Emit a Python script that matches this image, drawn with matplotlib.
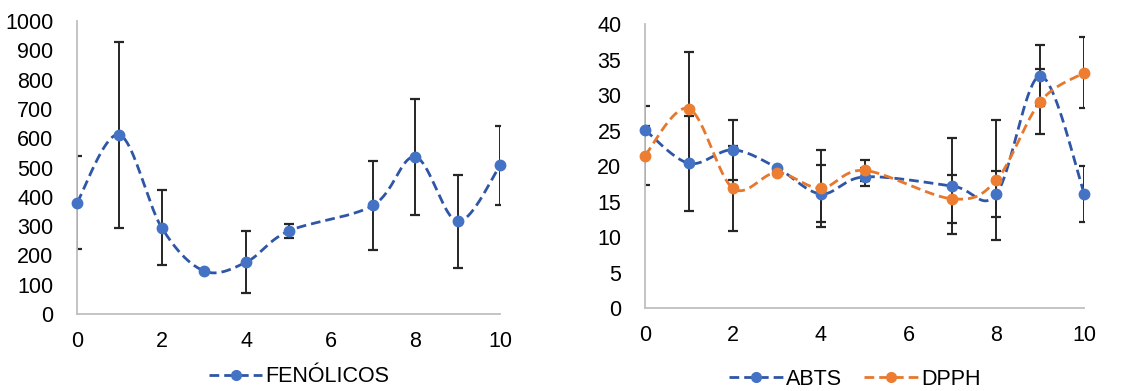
import numpy as np
import matplotlib.pyplot as plt
from matplotlib.lines import Line2D

plt.rcParams['font.family'] = ['Liberation Sans', 'DejaVu Sans']

# sampling days (no sample on day 6)
dias = [0, 1, 2, 3, 4, 5, 7, 8, 9, 10]

fenolicos = [380, 612, 295, 147, 177, 283, 371, 536, 316, 507]
fenolicos_err = [158, 317, 129, 3, 106, 25, 152, 197, 159, 136]

abts = [25.1, 20.4, 22.3, 19.8, 16.1, 18.5, 17.2, 16.1, 32.7, 16.1]
abts_err = [3.4, 6.7, 4.2, 0.15, 4.0, 1.3, 6.8, 3.25, 4.3, 3.95]

dpph = [21.5, 28.1, 16.9, 19.1, 16.9, 19.4, 15.4, 18.05, 29.1, 33.15]
dpph_err = [4.1, 7.9, 6.0, 0.15, 5.4, 1.5, 3.4, 8.5, 4.6, 5.0]

AZUL_LINEA = '#2f56a6'
AZUL_MARCA = '#4472c4'
NARANJA_LINEA = '#e8772e'
NARANJA_MARCA = '#ed7d31'
FS = 15.5


def suavizar(x, y, n=40):
    # smoothed line through the points (cubic Bezier, Catmull-Rom tangents)
    x = np.asarray(x, float)
    y = np.asarray(y, float)
    px = np.concatenate([[x[0]], x, [x[-1]]])
    py = np.concatenate([[y[0]], y, [y[-1]]])
    t = np.linspace(0, 1, n)[:, None]
    xs, ys = [], []
    for i in range(len(x) - 1):
        p0 = np.array([px[i + 1], py[i + 1]])
        p3 = np.array([px[i + 2], py[i + 2]])
        c1 = p0 + (np.array([px[i + 2], py[i + 2]]) - np.array([px[i], py[i]])) / 6
        c2 = p3 - (np.array([px[i + 3], py[i + 3]]) - np.array([px[i + 1], py[i + 1]])) / 6
        b = ((1 - t) ** 3) * p0 + 3 * ((1 - t) ** 2) * t * c1 + 3 * (1 - t) * t ** 2 * c2 + t ** 3 * p3
        xs.append(b[:, 0])
        ys.append(b[:, 1])
    return np.concatenate(xs), np.concatenate(ys)


def serie(ax, x, y, err, c_linea, c_marca):
    ax.errorbar(x, y, yerr=err, fmt='none', ecolor='#262626', elinewidth=1.4,
                capsize=3.4, capthick=1.6, zorder=2)
    sx, sy = suavizar(x, y)
    ax.plot(sx, sy, color=c_linea, lw=2.0, dashes=(3.5, 1.8), zorder=3)
    ax.plot(x, y, 'o', color=c_marca, ms=7.5, zorder=4, clip_on=False)


def estilo(ax, ymax, paso):
    ax.set_xlim(0, 10)
    ax.set_ylim(0, ymax)
    ax.set_xticks(range(0, 11, 2))
    ax.set_yticks(np.arange(0, ymax + paso, paso))
    for s in ['top', 'right']:
        ax.spines[s].set_visible(False)
    for s in ['left', 'bottom']:
        ax.spines[s].set_color('#bfbfbf')
        ax.spines[s].set_linewidth(1.3)
    ax.tick_params(length=0, labelsize=FS, colors='black')
    ax.tick_params(axis='y', pad=17)
    ax.tick_params(axis='x', pad=12)


def entrada(c_linea, c_marca):
    return Line2D([], [], color=c_linea, lw=2.0, dashes=(3.5, 1.8), marker='o',
                  markersize=7, markerfacecolor=c_marca, markeredgecolor=c_marca)


fig = plt.figure(figsize=(11.48, 3.91), dpi=100)
ax1 = fig.add_axes([0.0671, 0.197, 0.3685, 0.749])
ax2 = fig.add_axes([0.5618, 0.2115, 0.3827, 0.727])

serie(ax1, dias, fenolicos, fenolicos_err, AZUL_LINEA, AZUL_MARCA)
estilo(ax1, 1000, 100)
ax1.legend([entrada(AZUL_LINEA, AZUL_MARCA)], ['FENÓLICOS'], loc='center',
           bbox_to_anchor=(0.525, -0.215), frameon=False, fontsize=FS,
           handlelength=2.5, handletextpad=0.15)

serie(ax2, dias, abts, abts_err, AZUL_LINEA, AZUL_MARCA)
serie(ax2, dias, dpph, dpph_err, NARANJA_LINEA, NARANJA_MARCA)
estilo(ax2, 40, 5)
ax2.legend([entrada(AZUL_LINEA, AZUL_MARCA), entrada(NARANJA_LINEA, NARANJA_MARCA)],
           ['ABTS', 'DPPH'], loc='center', bbox_to_anchor=(0.478, -0.25), ncol=2,
           frameon=False, fontsize=FS, handlelength=2.5, handletextpad=0.15,
           columnspacing=1.0)

fig.savefig('out.png', dpi=100)
